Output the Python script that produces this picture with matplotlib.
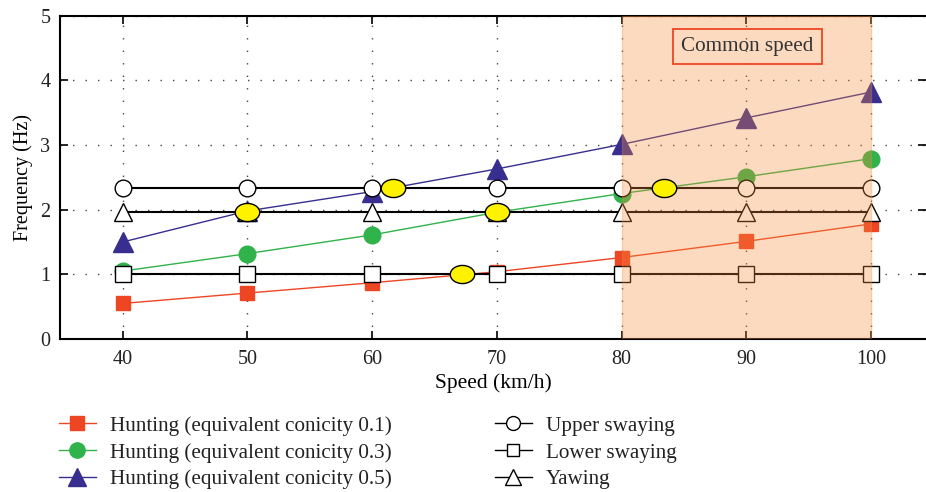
import matplotlib
matplotlib.use("Agg")
import matplotlib.pyplot as plt
import numpy as np
from matplotlib.path import Path
from matplotlib.lines import Line2D

plt.rcParams['font.family'] = ['Liberation Serif', 'DejaVu Serif']
plt.rcParams['text.color'] = '#222222'

# speeds (km/h)
speed = [40, 50, 60, 70, 80, 90, 100]

# hunting frequencies for three conicities (Hz)
hunt_01 = [0.55, 0.71, 0.87, 1.04, 1.26, 1.51, 1.78]
hunt_03 = [1.05, 1.32, 1.61, 1.96, 2.25, 2.51, 2.79]
hunt_05 = [1.50, 1.98, 2.28, 2.63, 3.01, 3.42, 3.82]

# body modes (Hz)
upper_sway = [2.33] * 7
lower_sway = [1.01] * 7
yawing = [1.96] * 7

# crossing points between hunting and body modes
cross_x = [50, 61.7, 67.2, 70, 83.4]
cross_y = [1.97, 2.33, 1.00, 1.96, 2.34]

labels = ['Hunting (equivalent conicity 0.1)',
          'Hunting (equivalent conicity 0.3)',
          'Hunting (equivalent conicity 0.5)',
          'Upper swaying', 'Lower swaying', 'Yawing']

red, green, blue = '#ee4523', '#2fb34a', '#372e8f'

fig = plt.figure(figsize=(9.26, 4.92), dpi=100)
ax = fig.add_axes([0.065, 0.311, 0.935, 0.657])

ax.plot(speed, hunt_01, '-s', color=red, lw=1.0, ms=10, mec=red, zorder=3)
ax.plot(speed, hunt_03, '-o', color=green, lw=1.0, ms=12, mec=green, zorder=3)
ax.plot(speed, hunt_05, '-^', color=blue, lw=1.0, ms=14, mec=blue, zorder=3)

ax.plot(speed, upper_sway, '-o', color='black', lw=1.5, ms=12, mfc='white',
        mec='black', mew=1.0, zorder=4)
ax.plot(speed, lower_sway, '-s', color='black', lw=1.5, ms=11, mfc='white',
        mec='black', mew=1.0, zorder=4)
ax.plot(speed, yawing, '-^', color='black', lw=1.5, ms=13, mfc='white',
        mec='black', mew=1.0, zorder=4)

# common speed range
ax.axvspan(80, 100, facecolor='#f58c3c', alpha=0.32, edgecolor='#f58c3c',
           lw=1.0, zorder=6)
ax.text(90.1, 4.52, 'Common speed', ha='center', va='center', fontsize=15.2,
        color='#333333', zorder=7,
        bbox=dict(boxstyle='square,pad=0.38', fc='none', ec=red, lw=1.3))

# elliptical marker for crossings
circ = Path.unit_circle()
ell = Path(circ.vertices * np.array([1.35, 1.0]), circ.codes)
ax.scatter(cross_x, cross_y, marker=ell, s=310, facecolor='#fff200',
           edgecolor='black', linewidth=1.0, zorder=8)

ax.set_xlim(35, 104.4)
ax.set_ylim(0, 5)
ax.set_xticks(speed)
ax.set_yticks([0, 1, 2, 3, 4, 5])
ax.grid(True, linestyle=(0, (1, 8)), color='#444444', lw=1.0)
ax.tick_params(direction='in', top=True, right=True, length=6, width=1.2,
               labelsize=14.5, labelcolor='#222222')
ax.tick_params(axis='x', pad=8)
ax.tick_params(axis='y', pad=7)
for s in ax.spines.values():
    s.set_linewidth(1.5)
ax.spines['right'].set_visible(False)
ax.set_xlabel('Speed (km/h)', fontsize=15.5, labelpad=3)
ax.set_ylabel('Frequency (Hz)', fontsize=14.5, labelpad=5)

handles = [
    Line2D([], [], color=red, lw=1.0, marker='s', ms=10, mec=red),
    Line2D([], [], color=green, lw=1.0, marker='o', ms=11, mec=green),
    Line2D([], [], color=blue, lw=1.0, marker='^', ms=13, mec=blue),
    Line2D([], [], color='black', lw=1.0, marker='o', ms=10, mfc='white', mec='black'),
    Line2D([], [], color='black', lw=1.0, marker='s', ms=9, mfc='white', mec='black'),
    Line2D([], [], color='black', lw=1.0, marker='^', ms=11, mfc='white', mec='black'),
]
fig.legend(handles, labels, loc='upper left', bbox_to_anchor=(59 / 926, 1 - 416 / 492),
           ncol=2, frameon=False, fontsize=15.2, handlelength=1.75,
           handletextpad=0.65, columnspacing=4.9, labelspacing=0.33,
           borderpad=0, borderaxespad=0)

fig.savefig('out.png', dpi=100)
